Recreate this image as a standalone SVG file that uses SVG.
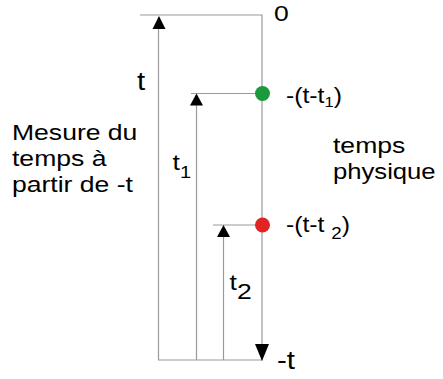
<svg xmlns="http://www.w3.org/2000/svg" width="443" height="379" viewBox="0 0 443 379">
<style>
.ln{stroke:#9a9a9a;stroke-width:1.2;fill:none}
.ah{fill:#000}
text{font-family:"Liberation Sans",Arial,sans-serif;font-size:22.5px;fill:#000}
.sub{font-size:17px}
.sub1{font-size:15px}
</style>
<rect width="443" height="379" fill="#fff"/>
<g id="connectors">
<path class="ln" d="M140,15 H262 V360 H158.5 V17"/>
<path class="ln" d="M196.5,360 V95 M191,93.5 H262"/>
<path class="ln" d="M223.5,360 V227 M213,225 H262"/>
<polygon class="ah" points="159,16 152.5,29 165.5,29"/>
<polygon class="ah" points="196.5,93.5 190,105.5 203,105.5"/>
<polygon class="ah" points="223.5,225 217,237 230,237"/>
<polygon class="ah" points="262,361 255,344 269,344"/>
</g>
<g id="node-0"><text transform="translate(274,21) scale(1.18,1)">0</text></g>
<g id="node-t"><text transform="translate(137,90) scale(1.18,1)" style="font-size:25px">t</text></g>
<g id="node-green"><circle cx="262.5" cy="93.5" r="7.5" fill="#1a9a3a"/><text transform="translate(286,103) scale(1.1,1)">-(t-t<tspan class="sub1" dy="4">1</tspan><tspan dy="-4">)</tspan></text></g>
<g id="node-mesure"><text transform="translate(12,140) scale(1.18,1)">Mesure du</text><text transform="translate(12,166) scale(1.18,1)">temps à</text><text transform="translate(12,192) scale(1.18,1)">partir de -t</text></g>
<g id="node-t1"><text transform="translate(172.5,170) scale(1.18,1)">t<tspan class="sub" dy="8">1</tspan></text></g>
<g id="node-temps"><text transform="translate(333,153) scale(1.18,1)">temps</text><text transform="translate(333,179) scale(1.14,1)">physique</text></g>
<g id="node-red"><circle cx="262.5" cy="225" r="7.5" fill="#e02424"/><text transform="translate(286,232) scale(1.1,1)">-(t-t <tspan class="sub" dy="7">2</tspan><tspan dy="-7">)</tspan></text></g>
<g id="node-t2"><text transform="translate(229.5,290) scale(1.18,1)">t<tspan dy="9">2</tspan></text></g>
<g id="node-minus-t"><text transform="translate(277,369) scale(1.18,1)" style="font-size:25px">-t</text></g>
</svg>
